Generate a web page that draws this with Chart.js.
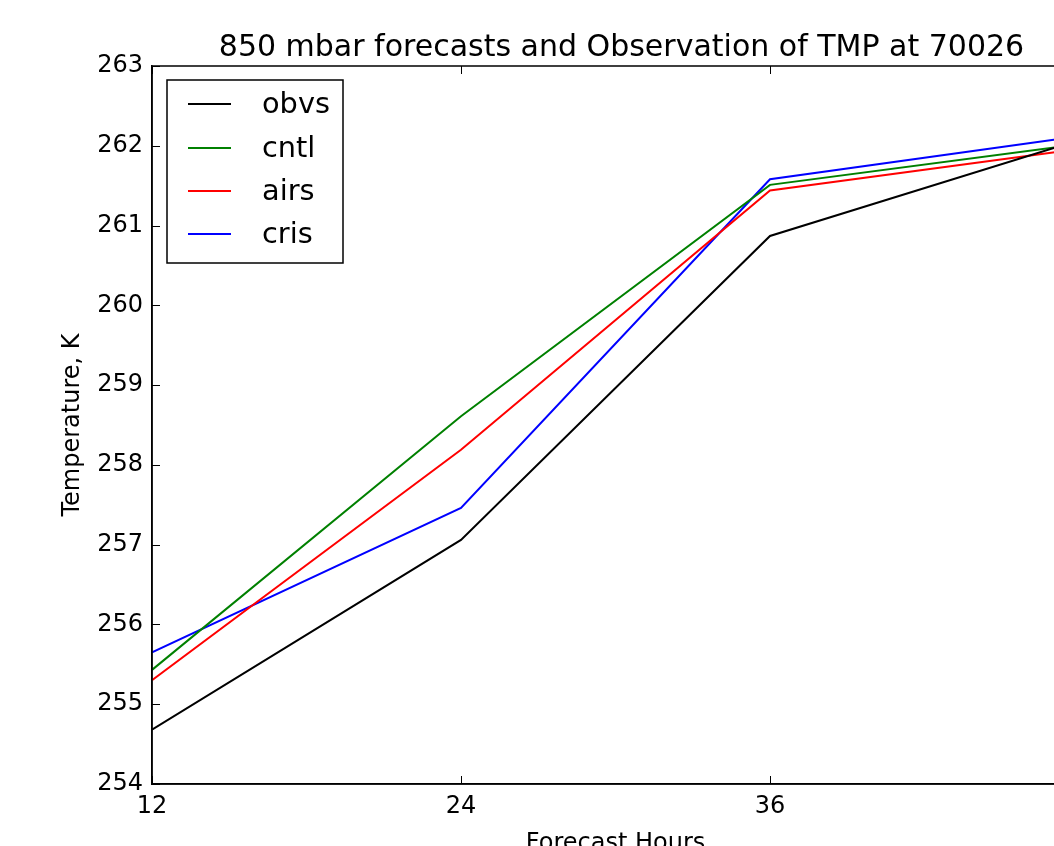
<!DOCTYPE html>
<html><head><meta charset="utf-8">
<script src="https://cdn.jsdelivr.net/npm/chart.js@4.4.0/dist/chart.umd.min.js"></script>
<style>
html,body{margin:0;padding:0;overflow:hidden;background:#fff;width:1054px;height:846px}
#wrap{position:absolute;left:0;top:0;width:1150px;height:880px}
</style>
</head><body>
<div id="wrap"><canvas id="c" width="1150" height="880"></canvas></div>
<script>
// ---- data ----
const hours = [12, 24, 36, 48];
const obvs = [254.68, 257.06, 260.87, 262.07];
const cntl = [255.43, 258.61, 261.51, 262.02];
const airs = [255.30, 258.19, 261.44, 261.96];
const cris = [255.65, 257.46, 261.58, 262.12];
const seriesNames = ['obvs', 'cntl', 'airs', 'cris'];
const seriesValues = [obvs, cntl, airs, cris];
const seriesColors = ['#000000', '#008000', '#ff0000', '#0000ff'];
const xTicks = [12, 24, 36, 48];
const yTicks = [254, 255, 256, 257, 258, 259, 260, 261, 262, 263];
const titleText = '850 mbar forecasts and Observation of TMP at 70026';
const xLabel = 'Forecast Hours';
const yLabel = 'Temperature, K';

const FONT = "'DejaVu Sans', 'Bitstream Vera Sans', sans-serif";
const W = 1150, H = 880;
const PLOT_LEFT = 152, PLOT_TOP = 66, PLOT_RIGHT = 1079, PLOT_BOTTOM = 784;

const datasets = seriesNames.map((n, i) => ({
  label: n,
  data: hours.map((h, j) => ({x: h, y: seriesValues[i][j]})),
  borderColor: seriesColors[i],
  backgroundColor: seriesColors[i],
  borderWidth: 2,
  pointRadius: 0,
  tension: 0,
  fill: false
}));

const decor = {
  id: 'decor',
  afterDraw(chart) {
    const ctx = chart.ctx;
    const a = chart.chartArea;
    const xs = chart.scales.x, ys = chart.scales.y;
    ctx.save();
    // frame (top & right spines)
    ctx.strokeStyle = '#000';
    ctx.lineWidth = 1.5;
    ctx.strokeRect(a.left, a.top, a.right - a.left, a.bottom - a.top);
    // inward ticks
    ctx.lineWidth = 1;
    const TL = 8;
    ctx.beginPath();
    xTicks.forEach(v => {
      const px = Math.round(xs.getPixelForValue(v)) + 0.5;
      ctx.moveTo(px, a.bottom); ctx.lineTo(px, a.bottom - TL);
      ctx.moveTo(px, a.top); ctx.lineTo(px, a.top + TL);
    });
    yTicks.forEach(v => {
      const py = Math.round(ys.getPixelForValue(v)) + 0.5;
      ctx.moveTo(a.left, py); ctx.lineTo(a.left + TL, py);
      ctx.moveTo(a.right, py); ctx.lineTo(a.right - TL, py);
    });
    ctx.stroke();
    // title
    ctx.fillStyle = '#000';
    ctx.font = '30px ' + FONT;
    ctx.textAlign = 'center';
    ctx.textBaseline = 'alphabetic';
    ctx.fillText(titleText, (a.left + a.right) / 2 + 6, 56);
    // legend
    const bx = 167, by = 80, bw = 176, bh = 183;
    ctx.fillStyle = '#fff';
    ctx.fillRect(bx, by, bw, bh);
    ctx.strokeStyle = '#000';
    ctx.lineWidth = 1.5;
    ctx.strokeRect(bx, by, bw, bh);
    const rowY = [104, 148, 191, 234];
    chart.data.datasets.forEach((ds, i) => {
      const y = rowY[i];
      ctx.strokeStyle = ds.borderColor;
      ctx.lineWidth = 2;
      ctx.beginPath();
      ctx.moveTo(188, y); ctx.lineTo(231, y);
      ctx.stroke();
      ctx.fillStyle = '#000';
      ctx.font = '28.8px ' + FONT;
      ctx.textAlign = 'left';
      ctx.textBaseline = 'middle';
      ctx.fillText(ds.label, 262, y + 2);
    });
    ctx.restore();
  }
};

new Chart(document.getElementById('c'), {
  type: 'line',
  data: {datasets},
  options: {
    responsive: false,
    animation: false,
    layout: {padding: {top: PLOT_TOP, right: W - PLOT_RIGHT, left: 0, bottom: 0}},
    plugins: {legend: {display: false}, tooltip: {enabled: false}, title: {display: false}},
    scales: {
      x: {
        type: 'linear', min: 12, max: 48,
        afterBuildTicks: s => { s.ticks = xTicks.map(v => ({value: v})); },
        afterFit: s => { s.height = H - PLOT_BOTTOM; },
        grid: {display: false, drawTicks: false},
        border: {display: true, color: '#000', width: 1.5},
        ticks: {color: '#000', font: {family: FONT, size: 24}, padding: 8, maxRotation: 0, autoSkip: false},
        title: {display: true, text: xLabel, color: '#000', font: {family: FONT, size: 24}, padding: {top: 0, bottom: 22}}
      },
      y: {
        type: 'linear', min: 254, max: 263,
        afterBuildTicks: s => { s.ticks = yTicks.map(v => ({value: v})); },
        afterFit: s => { s.width = PLOT_LEFT; },
        grid: {display: false, drawTicks: false},
        border: {display: true, color: '#000', width: 1.5},
        ticks: {color: '#000', font: {family: FONT, size: 24}, padding: 9, autoSkip: false},
        title: {display: true, text: yLabel, color: '#000', font: {family: FONT, size: 24}, padding: {top: 58, bottom: 0}}
      }
    }
  },
  plugins: [decor]
});
</script>
</body></html>
